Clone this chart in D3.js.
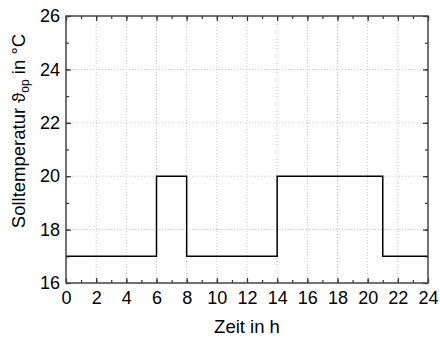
<!DOCTYPE html>
<html>
<head>
<meta charset="utf-8">
<script src="https://d3js.org/d3.v7.min.js"></script>
<style>
  html, body { margin: 0; padding: 0; background: #fff; }
  svg text { font-family: "Liberation Sans", Arial, sans-serif; fill: #000; }
</style>
</head>
<body>
<svg id="chart" width="440" height="344"></svg>
<script>
// Setpoint schedule: each value holds from its hour until the next one
const hours = [0, 6, 8, 14, 21, 24];
const setpoints = [17, 20, 17, 20, 17, 17];

const xTicks = [0, 2, 4, 6, 8, 10, 12, 14, 16, 18, 20, 22, 24];
const yTicks = [16, 18, 20, 22, 24, 26];
const xMinor = d3.range(0, 25, 1);
const yMinor = d3.range(16, 27, 1);

const margin = { left: 66, right: 12, top: 16, bottom: 61 };
const W = 440, H = 344;
const svg = d3.select("#chart");

const x = d3.scaleLinear().domain([0, 24]).range([margin.left, W - margin.right]);
const y = d3.scaleLinear().domain([16, 26]).range([H - margin.bottom, margin.top]);

const x0 = x(0), x1 = x(24), y0 = y(16), y1 = y(26);

// dotted grid at major ticks
const grid = svg.append("g").attr("stroke", "#c8c8c8").attr("stroke-width", 1)
  .attr("stroke-dasharray", "1,2");
xTicks.slice(1, -1).forEach(t => {
  grid.append("line").attr("x1", x(t)).attr("x2", x(t)).attr("y1", y0).attr("y2", y1);
});
yTicks.slice(1, -1).forEach(t => {
  grid.append("line").attr("x1", x0).attr("x2", x1).attr("y1", y(t)).attr("y2", y(t));
});

// inward ticks on all four sides
const tickCol = "#333";
function ticks(axisGen, tr, vals, len) {
  svg.append("g").attr("transform", tr)
    .call(axisGen.tickValues(vals).tickSize(len).tickFormat(""))
    .call(g => g.select(".domain").remove())
    .call(g => g.selectAll("line").attr("stroke", tickCol).attr("stroke-width", 1.2));
}
ticks(d3.axisTop(x), `translate(0,${y0})`, xTicks, 5);
ticks(d3.axisTop(x), `translate(0,${y0})`, xMinor, 3);
ticks(d3.axisBottom(x), `translate(0,${y1})`, xTicks, 5);
ticks(d3.axisBottom(x), `translate(0,${y1})`, xMinor, 3);
ticks(d3.axisRight(y), `translate(${x0},0)`, yTicks, 5);
ticks(d3.axisRight(y), `translate(${x0},0)`, yMinor, 3);
ticks(d3.axisLeft(y), `translate(${x1},0)`, yTicks, 5);
ticks(d3.axisLeft(y), `translate(${x1},0)`, yMinor, 3);

// tick labels
const xl = svg.append("g").attr("transform", `translate(0,${y0})`)
  .call(d3.axisBottom(x).tickValues(xTicks).tickSize(0).tickPadding(8).tickFormat(d3.format("d")));
xl.select(".domain").remove();
xl.selectAll("text").attr("font-size", 18).attr("font-family", "Liberation Sans, Arial, sans-serif").attr("fill", "#000");

const yl = svg.append("g").attr("transform", `translate(${x0},0)`)
  .call(d3.axisLeft(y).tickValues(yTicks).tickSize(0).tickPadding(6).tickFormat(d3.format("d")));
yl.select(".domain").remove();
yl.selectAll("text").attr("font-size", 18).attr("font-family", "Liberation Sans, Arial, sans-serif").attr("fill", "#000");

// setpoint curve
const line = d3.line()
  .x((d, i) => x(hours[i]))
  .y(d => y(d))
  .curve(d3.curveStepAfter);
svg.append("path").datum(setpoints)
  .attr("d", line)
  .attr("fill", "none").attr("stroke", "#000").attr("stroke-width", 1.5);

// frame
svg.append("rect").attr("x", x0).attr("y", y1).attr("width", x1 - x0).attr("height", y0 - y1)
  .attr("fill", "none").attr("stroke", "#444").attr("stroke-width", 1.5);

// axis titles
svg.append("text").attr("x", (x0 + x1) / 2).attr("y", 333)
  .attr("text-anchor", "middle").attr("font-size", 18.5).text("Zeit in h");

const yt = svg.append("text").attr("transform", "translate(25,131) rotate(-90)")
  .attr("text-anchor", "middle").attr("font-size", 18.5);
yt.append("tspan").text("Solltemperatur ϑ");
yt.append("tspan").attr("font-size", 12).attr("dy", 4).text("op");
yt.append("tspan").attr("dy", -4).text(" in °C");
</script>
</body>
</html>
